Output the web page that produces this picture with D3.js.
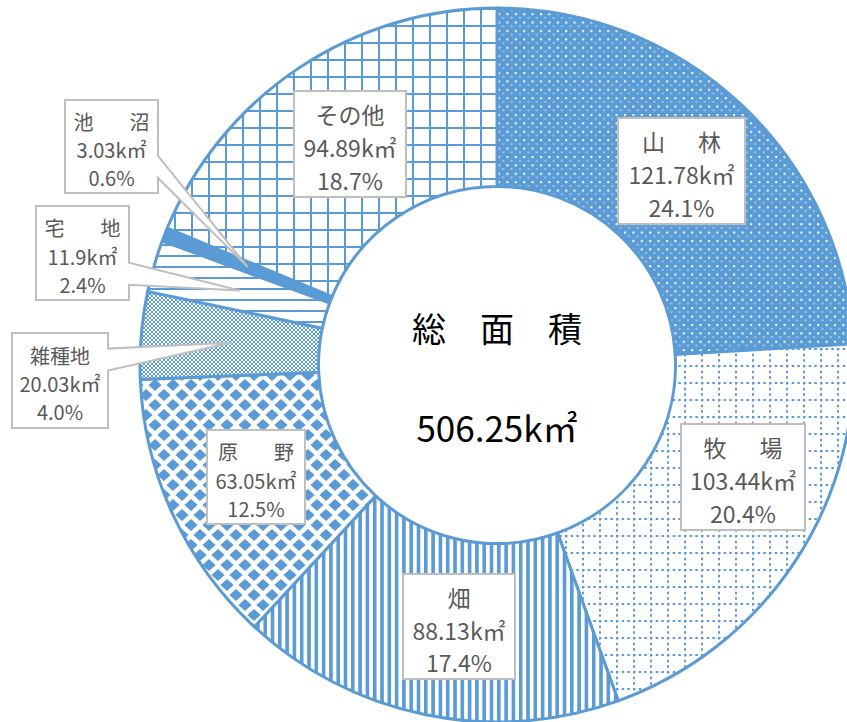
<!DOCTYPE html>
<html lang="ja">
<head>
<meta charset="UTF-8">
<title>総面積</title>
<script src="https://cdn.jsdelivr.net/npm/d3@7"></script>
<style>
body { margin: 0; background: #fff; }
svg text { font-family: "Noto Sans CJK JP", sans-serif; }
</style>
</head>
<body>
<svg id="chart" width="847" height="722"></svg>
<script>
// data, clockwise from 12 o'clock
var categories = ["山林", "牧場", "畑", "原野", "雑種地", "宅地", "池沼", "その他"];
var areas = [121.78, 103.44, 88.13, 63.05, 20.03, 11.9, 3.03, 94.89];
var unit = "k㎡";
var centerTitle = "総　面　積";

// label box layout: x, y, width, height, font size
var labelBoxes = [
    [618, 118, 127, 106, 23],
    [681, 424, 124, 106, 23],
    [403, 574, 112, 105, 23],
    [207, 430, 98, 94, 20],
    [12, 333, 96, 95, 20],
    [36, 206, 93, 94, 20],
    [65, 100, 93, 93, 20],
    [294, 91, 112, 106, 23]
];
var hasCallout = [false, false, false, false, true, true, true, false];

var blue = "#5B9BD5";
var cx = 497, cy = 365, R = 357;

var svg = d3.select("#chart");
var defs = svg.append("defs");

// fill patterns (one per slice)
function pat(id, w, h) {
    var p = defs.append("pattern").attr("id", id)
        .attr("patternUnits", "userSpaceOnUse")
        .attr("width", w).attr("height", h);
    return p;
}

var p0 = pat("p0", 8.4, 8.4);
p0.append("rect").attr("width", 8.4).attr("height", 8.4).attr("fill", blue);
p0.append("rect").attr("x", 1).attr("y", 1).attr("width", 2).attr("height", 2).attr("fill", "#fff");
p0.append("rect").attr("x", 5.2).attr("y", 5.2).attr("width", 2).attr("height", 1).attr("fill", "#fff").attr("opacity", 0.8);

var p1 = pat("p1", 17, 17);
p1.append("rect").attr("width", 17).attr("height", 17).attr("fill", "#fff");
p1.append("line").attr("x1", 1).attr("y1", 0).attr("x2", 1).attr("y2", 17)
    .attr("stroke", blue).attr("stroke-width", 2).attr("stroke-dasharray", "2.5,3.17");
p1.append("line").attr("x1", 0).attr("y1", 1).attr("x2", 17).attr("y2", 1)
    .attr("stroke", blue).attr("stroke-width", 2).attr("stroke-dasharray", "2.5,3.17");

var p2 = pat("p2", 7.3, 10);
p2.append("rect").attr("width", 7.3).attr("height", 10).attr("fill", "#fff");
p2.append("rect").attr("width", 3.6).attr("height", 10).attr("fill", blue);

var p3 = pat("p3", 18, 20);
p3.append("rect").attr("width", 18).attr("height", 20).attr("fill", "#fff");
[[0, 0], [18, 0], [0, 20], [18, 20], [9, 10]].forEach(function(c) {
    p3.append("polygon")
        .attr("points", [[c[0] - 6.6, c[1]], [c[0], c[1] - 6], [c[0] + 6.6, c[1]], [c[0], c[1] + 6]].join(" "))
        .attr("fill", blue);
});

var p4 = pat("p4", 4, 4);
p4.append("rect").attr("width", 4).attr("height", 4).attr("fill", "#fff");
p4.append("rect").attr("width", 2).attr("height", 2).attr("fill", blue);
p4.append("rect").attr("x", 2).attr("y", 2).attr("width", 2).attr("height", 2).attr("fill", blue);

var p5 = pat("p5", 11, 11);
p5.append("rect").attr("width", 11).attr("height", 11).attr("fill", "#fff");
p5.append("rect").attr("width", 11).attr("height", 2).attr("fill", blue);

var p7 = pat("p7", 17, 17);
p7.append("rect").attr("width", 17).attr("height", 17).attr("fill", "#fff");
p7.append("rect").attr("width", 17).attr("height", 2).attr("fill", blue);
p7.append("rect").attr("width", 2).attr("height", 17).attr("fill", blue);

var fills = ["url(#p0)", "url(#p1)", "url(#p2)", "url(#p3)", "url(#p4)", "url(#p5)", blue, "url(#p7)"];

var total = d3.sum(areas);
var pie = d3.pie().sort(null).value(function(d) { return d; });
var arcs = pie(areas);
var arc = d3.arc().innerRadius(R * 0.5).outerRadius(R);

var g = svg.append("g").attr("transform", "translate(" + cx + "," + cy + ")");

g.selectAll("path.slice")
    .data(arcs)
  .enter().append("path")
    .attr("class", "slice")
    .attr("d", arc)
    .attr("fill", function(d, i) { return fills[i]; })
    .attr("stroke", blue)
    .attr("stroke-width", 3)
    .attr("stroke-linejoin", "round");

// center text
svg.append("text")
    .attr("x", cx).attr("y", 327)
    .attr("text-anchor", "middle")
    .attr("dominant-baseline", "central")
    .style("font-size", "34px")
    .attr("fill", "#000")
    .text(centerTitle);

svg.append("text")
    .attr("x", cx).attr("y", 426)
    .attr("text-anchor", "middle")
    .attr("dominant-baseline", "central")
    .style("font-size", "35px")
    .attr("fill", "#000")
    .text(total.toFixed(2) + unit);

// data labels
arcs.forEach(function(d, i) {
    var b = labelBoxes[i];
    var x = b[0], y = b[1], w = b[2], h = b[3], fs = b[4];
    var lg = svg.append("g");
    var path;
    if (hasCallout[i]) {
        var c = arc.centroid(d);
        var tx = c[0] + cx, ty = c[1] + cy;
        var mid = Math.max(y + h * 0.28, Math.min(y + h - h * 0.28, ty));
        path = "M" + x + "," + y + "H" + (x + w) + "V" + (mid - 11) +
            "L" + tx + "," + ty + "L" + (x + w) + "," + (mid + 11) +
            "V" + (y + h) + "H" + x + "Z";
    } else {
        path = "M" + x + "," + y + "h" + w + "v" + h + "h" + (-w) + "Z";
    }
    lg.append("path").attr("d", path)
        .attr("fill", "#fff").attr("stroke", "#BFBFBF").attr("stroke-width", 2)
        .attr("stroke-linejoin", "miter");

    var mx = x + w / 2;
    var step = fs * 1.42;
    var c2 = y + h / 2 + 3;
    var name = categories[i];
    var nameEls = name.length === 2 ? [[name[0], mx - 28], [name[1], mx + 28]] : [[name, mx]];
    nameEls.forEach(function(n) {
        lg.append("text")
            .attr("x", n[1]).attr("y", c2 - step)
            .attr("text-anchor", "middle").attr("dominant-baseline", "central")
            .style("font-size", fs + "px").attr("fill", "#595959")
            .text(n[0]);
    });
    lg.append("text")
        .attr("x", mx).attr("y", c2)
        .attr("text-anchor", "middle").attr("dominant-baseline", "central")
        .style("font-size", fs + "px").attr("fill", "#595959")
        .text(areas[i] + unit);
    lg.append("text")
        .attr("x", mx).attr("y", c2 + step)
        .attr("text-anchor", "middle").attr("dominant-baseline", "central")
        .style("font-size", fs + "px").attr("fill", "#595959")
        .text((areas[i] / total * 100).toFixed(1) + "%");
});
</script>
</body>
</html>
